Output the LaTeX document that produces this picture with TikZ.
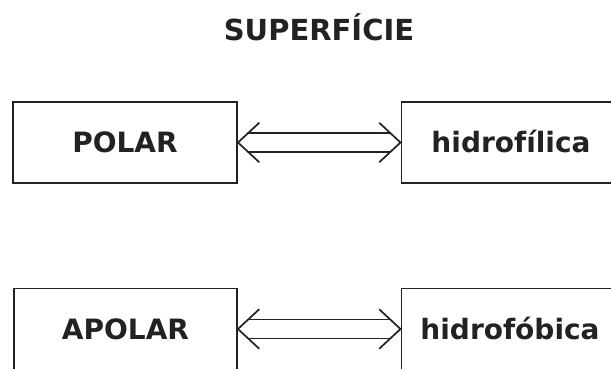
\documentclass[tikz,border=0pt]{standalone}
\usepackage{fontspec}
\setmainfont{DejaVu Sans}
\usetikzlibrary{calc}
\definecolor{ink}{HTML}{222222}
\begin{document}
\begin{tikzpicture}[x=1pt,y=-1pt,
  box/.style={draw=ink, line width=1.9pt, minimum width=224pt, minimum height=81pt,
    inner sep=0pt, text height=20.4pt, text depth=0pt,
    font=\fontsize{28}{32}\selectfont\bfseries, text=ink},
  lbl/.style={inner sep=0pt, text height=20.4pt, text depth=0pt,
    font=\fontsize{28}{32}\selectfont\bfseries, text=ink},
  link/.style={draw=ink, line width=1.7pt},
  barb/.style={draw=ink, line width=1.7pt, line join=miter, line cap=round}]
\useasboundingbox (0,0) rectangle (611,368);
\fill[white] (0,0) rectangle (611,368);
\clip (0,0) rectangle (611,368);
\node[font=\fontsize{29}{34}\selectfont\bfseries, text=ink] (title) at (319,27) {SUPERFÍCIE};
\node[box] (polar) at (125,142.5) {POLAR};
\node[box, minimum width=260pt, anchor=west] (hfil) at (400.5,142.5) {};
\node[lbl] (hfiltxt) at (511,142.5) {hidrofílica};
\node[box, minimum width=223pt] (apolar) at (125.5,329) {APOLAR};
\node[box, minimum width=260pt, anchor=west] (hfob) at (400.5,329) {};
\node[lbl] (hfobtxt) at (510,329) {hidrofóbica};
\foreach \a/\b in {polar/hfil, apolar/hfob}{
  \draw[link] ($(\a.east)+(10,-9.5)$) -- ($(\b.west)+(-10,-9.5)$);
  \draw[link] ($(\a.east)+(10,9.5)$) -- ($(\b.west)+(-10,9.5)$);
  \draw[barb] ($(\a.east)+(21,-19.5)$) -- (\a.east) -- ($(\a.east)+(21,19.5)$);
  \draw[barb] ($(\b.west)+(-21,-19.5)$) -- (\b.west) -- ($(\b.west)+(-21,19.5)$);
}
\end{tikzpicture}
\end{document}
